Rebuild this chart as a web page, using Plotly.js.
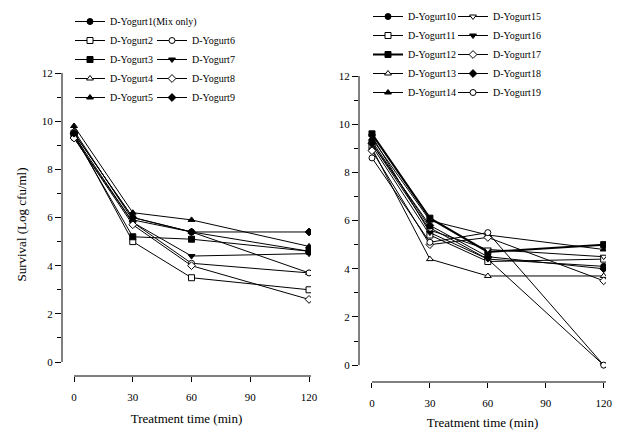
<!DOCTYPE html>
<html>
<head>
<meta charset="utf-8">
<script src="https://cdn.plot.ly/plotly-3.0.1.min.js"></script>
<style>html,body{margin:0;padding:0;background:#fff}#chart{width:621px;height:430px}</style>
</head>
<body>
<div id="chart"></div>
<script>
// ---- data ----
const times = [0, 30, 60, 120];

const leftNames = ["D-Yogurt1(Mix only)", "D-Yogurt2", "D-Yogurt3", "D-Yogurt4", "D-Yogurt5",
                   "D-Yogurt6", "D-Yogurt7", "D-Yogurt8", "D-Yogurt9"];
const yogurt1 = [9.5, 6.0, 5.4, 4.6];
const yogurt2 = [9.5, 5.0, 3.5, 3.0];
const yogurt3 = [9.4, 5.2, 5.1, 4.6];
const yogurt4 = [9.6, 5.9, 5.4, 3.7];
const yogurt5 = [9.8, 6.2, 5.9, 4.8];
const yogurt6 = [9.3, 5.8, 4.1, 3.7];
const yogurt7 = [9.4, 5.8, 4.4, 4.5];
const yogurt8 = [9.3, 5.7, 4.0, 2.6];
const yogurt9 = [9.5, 6.0, 5.4, 5.4];

const rightNames = ["D-Yogurt10", "D-Yogurt11", "D-Yogurt12", "D-Yogurt13", "D-Yogurt14",
                    "D-Yogurt15", "D-Yogurt16", "D-Yogurt17", "D-Yogurt18", "D-Yogurt19"];
const yogurt10 = [9.3, 5.7, 4.4, 4.1];
const yogurt11 = [9.1, 5.4, 4.3, 4.4];
const yogurt12 = [9.6, 6.1, 4.7, 5.0];
const yogurt13 = [9.0, 4.4, 3.7, 3.7];
const yogurt14 = [9.4, 6.0, 5.4, 4.8];
const yogurt15 = [9.2, 5.6, 4.8, 4.5];
const yogurt16 = [9.5, 5.5, 4.4, 0.0];
const yogurt17 = [8.9, 5.0, 5.3, 3.5];
const yogurt18 = [9.2, 5.8, 4.5, 4.0];
const yogurt19 = [8.6, 5.1, 5.5, 0.0];

const leftValues = [yogurt1, yogurt2, yogurt3, yogurt4, yogurt5, yogurt6, yogurt7, yogurt8, yogurt9];
const rightValues = [yogurt10, yogurt11, yogurt12, yogurt13, yogurt14, yogurt15, yogurt16, yogurt17, yogurt18, yogurt19];

const xTicks = [0, 30, 60, 90, 120];
const yTicks = [0, 2, 4, 6, 8, 10, 12];

// ---- styles ----
const leftSymbols = ["circle", "square", "square", "triangle-up", "triangle-up", "circle", "triangle-down", "diamond", "diamond"];
const leftFilled  = [true, false, true, false, true, false, true, false, true];
const leftLegends = ["legend", "legend", "legend", "legend", "legend", "legend2", "legend2", "legend2", "legend2"];
const rightSymbols = ["circle", "square", "square", "triangle-up", "triangle-up", "triangle-down", "triangle-down", "diamond", "diamond", "circle"];
const rightFilled  = [true, false, true, false, true, false, true, false, true, false];
const rightLegends = ["legend3", "legend3", "legend3", "legend3", "legend3", "legend4", "legend4", "legend4", "legend4", "legend4"];
const rightWidths  = [1, 1, 2, 1, 1, 1, 1, 1, 1, 1];

const serif = "Liberation Serif, Times New Roman, serif";

function makeTrace(name, vals, sym, filled, leg, xa, ya, lw) {
  return {
    type: "scatter", mode: "lines+markers", name: name,
    x: times, y: vals, xaxis: xa, yaxis: ya, legend: leg,
    line: {color: "#000", width: lw || 1},
    marker: {symbol: sym, size: 6, color: filled ? "#000" : "#fff", line: {color: "#000", width: 1}}
  };
}

const traces = [];
leftNames.forEach((n, i) => traces.push(makeTrace(n, leftValues[i], leftSymbols[i], leftFilled[i], leftLegends[i], "x", "y", 1)));
rightNames.forEach((n, i) => traces.push(makeTrace(n, rightValues[i], rightSymbols[i], rightFilled[i], rightLegends[i], "x2", "y2", rightWidths[i])));

const tickFont = {family: serif, size: 11, color: "#000"};
const titleFont = {family: serif, size: 13, color: "#000"};
function xAxis(domain, range, anchor) {
  return {
    domain: domain, range: range, anchor: anchor,
    tickvals: xTicks, ticks: "outside", ticklen: 5, tickcolor: "#000", tickwidth: 1,
    showline: false, showgrid: false, zeroline: false, tickfont: tickFont,
    ticklabelstandoff: 6,
    title: {text: "Treatment time (min)", font: titleFont, standoff: 11},
    automargin: false
  };
}
function yAxis(domain, range, anchor, title) {
  const a = {
    domain: domain, range: range, anchor: anchor,
    tickvals: yTicks, ticks: "outside", ticklen: 6, tickcolor: "#000", tickwidth: 1,
    minor: {dtick: 1, tick0: 1, ticks: "outside", ticklen: 4, tickcolor: "#000", showgrid: false},
    showline: false, showgrid: false, zeroline: false, tickfont: tickFont,
    automargin: false
  };
  if (title) a.title = {text: title, font: titleFont, standoff: 12};
  return a;
}

const legFont = {family: serif, size: 10, color: "#000"};
function leg(x, topPx) {
  return {x: x / 621, y: 1 - topPx / 430, xanchor: "left", yanchor: "top",
          bgcolor: "rgba(0,0,0,0)", font: legFont, tracegroupgap: 0};
}

const layout = {
  width: 621, height: 430,
  margin: {l: 0, r: 0, t: 0, b: 0},
  paper_bgcolor: "#fff", plot_bgcolor: "rgba(0,0,0,0)",
  font: {family: serif, color: "#000"},
  xaxis: xAxis([62 / 621, 311 / 621], [-6.13, 121], "y"),
  yaxis: yAxis([54 / 430, 357 / 430], [-0.58, 12], "x", "Survival (Log cfu/ml)"),
  xaxis2: xAxis([359 / 621, 606 / 621], [-6.72, 121.2], "y2"),
  yaxis2: yAxis([48 / 430, 354 / 430], [-0.70, 12], "x2", null),
  legend: leg(70, 7),
  legend2: leg(152, 26),
  legend3: leg(368, 2),
  legend4: leg(453, 2),
  shapes: [
    {type: "line", xref: "x domain", yref: "y", x0: 0, x1: 0, y0: 0, y1: 12, line: {color: "#000", width: 1}},
    {type: "line", xref: "x", yref: "y domain", x0: 0, x1: 121, y0: 0, y1: 0, line: {color: "#000", width: 1}},
    {type: "line", xref: "x2 domain", yref: "y2", x0: 0, x1: 0, y0: 0, y1: 12, line: {color: "#000", width: 1}},
    {type: "line", xref: "x2", yref: "y2 domain", x0: 0, x1: 121.2, y0: 0, y1: 0, line: {color: "#000", width: 1}}
  ],
  showlegend: true
};

Plotly.newPlot("chart", traces, layout, {displayModeBar: false, staticPlot: true});
</script>
</body>
</html>
